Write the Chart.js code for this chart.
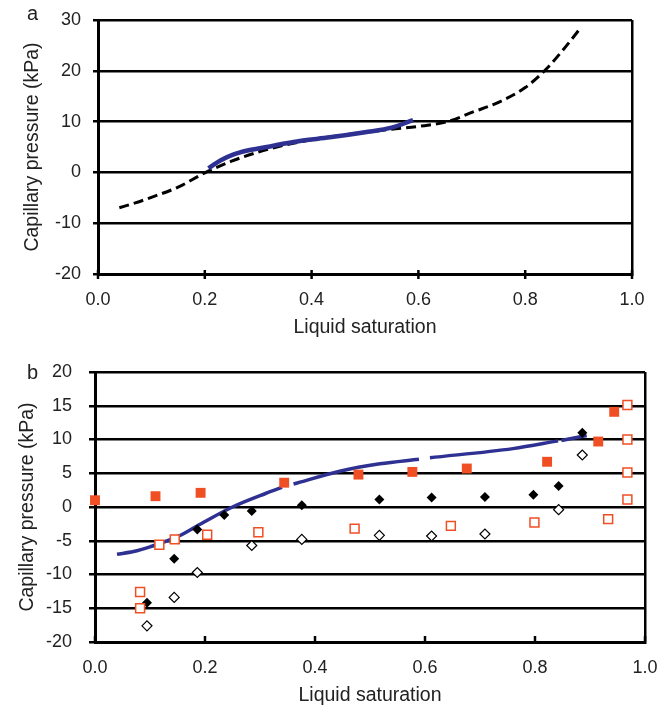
<!DOCTYPE html>
<html>
<head>
<meta charset="utf-8">
<script src="https://cdn.jsdelivr.net/npm/chart.js@4.4.1/dist/chart.umd.min.js"></script>
<style>
  body { margin: 0; background: #fff; }
  #wrap { position: relative; width: 657px; height: 712px; font-family: "Liberation Sans", Arial, sans-serif; }
  canvas { position: absolute; left: 0; }
  #chartA { top: 0; }
  #chartB { top: 345px; }
  .tag { position: absolute; font-size: 20px; line-height: 20px; color: #222; }
</style>
</head>
<body>
<div id="wrap">
  <canvas id="chartA" width="657" height="345"></canvas>
  <canvas id="chartB" width="657" height="367"></canvas>
  <div class="tag" style="left:27px;top:3px">a</div>
  <div class="tag" style="left:27px;top:362px">b</div>
</div>
<script>
// ---- data ----
const satTicks = [0, 0.2, 0.4, 0.6, 0.8, 1.0];
const pcTicksA = [-20, -10, 0, 10, 20, 30];
const pcTicksB = [-20, -15, -10, -5, 0, 5, 10, 15, 20];

// panel a: dashed black curve
const satDashA = [0.04, 0.07, 0.1, 0.15, 0.2, 0.25, 0.3, 0.35, 0.4, 0.45, 0.5, 0.55, 0.6, 0.655, 0.7, 0.75, 0.8, 0.84, 0.87, 0.905];
const pcDashA  = [-6.95, -6.0, -4.9, -2.9, -0.1, 2.2, 4.0, 5.4, 6.4, 7.2, 7.9, 8.5, 9.05, 10.0, 11.8, 13.8, 16.7, 20.4, 24.0, 28.6];
// panel a: solid blue curve
const satBlueA = [0.207, 0.215, 0.23, 0.253, 0.28, 0.316, 0.35, 0.378, 0.434, 0.5, 0.55, 0.59];
const pcBlueA  = [0.8, 1.4, 2.4, 3.5, 4.3, 5.0, 5.7, 6.2, 6.9, 7.9, 8.8, 10.3];

// panel b: blue curve (null = break in the line)
const satBlueB = [0.04, 0.07, 0.1, 0.15, 0.19, 0.25, 0.31, 0.34, null, 0.361, 0.445, 0.518, 0.589, null, 0.609, 0.76, 0.842, null, 0.848, 0.894];
const pcBlueB  = [-7.0, -6.6, -5.9, -4.4, -2.6, 0.0, 2.0, 2.9, null, 3.4, 5.3, 6.4, 7.07, null, 7.3, 8.65, 9.8, null, 9.85, 10.6];
// panel b: markers
const satFilledSq = [0.0, 0.11, 0.192, 0.344, 0.479, 0.577, 0.676, 0.822, 0.915, 0.944];
const pcFilledSq  = [1.0, 1.6, 2.1, 3.6, 4.8, 5.2, 5.7, 6.7, 9.7, 14.1];
const satOpenSq = [0.082, 0.082, 0.117, 0.145, 0.204, 0.297, 0.472, 0.647, 0.799, 0.933, 0.968, 0.968, 0.968, 0.968];
const pcOpenSq  = [-12.6, -15.0, -5.6, -4.8, -4.1, -3.75, -3.2, -2.8, -2.3, -1.8, 1.1, 5.1, 10.0, 15.1];
const satFilledDia = [0.0945, 0.144, 0.186, 0.235, 0.285, 0.376, 0.517, 0.612, 0.709, 0.797, 0.843, 0.886];
const pcFilledDia  = [-14.2, -7.65, -3.35, -1.2, -0.6, 0.25, 1.1, 1.4, 1.5, 1.8, 3.1, 11.0];
const satOpenDia = [0.0945, 0.144, 0.186, 0.285, 0.376, 0.517, 0.612, 0.709, 0.843, 0.886];
const pcOpenDia  = [-17.6, -13.4, -9.7, -5.7, -4.8, -4.2, -4.3, -4.0, -0.4, 7.7];

const BLUE = '#2e3192';
const ORANGE = '#f04e23';
const TEXT = '#222';
const FONT = '"Liberation Sans", Arial, sans-serif';

function pts(xs, ys) {
    return xs.map((x, i) => ({ x: x, y: ys[i] }));
}

// small tick marks across the x axis
const xTickMarks = {
    id: 'xTickMarks',
    afterDraw(chart, args, opts) {
        const sx = chart.scales.x;
        const yb = chart.chartArea.bottom;
        const ctx = chart.ctx;
        ctx.save();
        ctx.strokeStyle = '#000';
        ctx.lineWidth = 2.5;
        sx.ticks.forEach(t => {
            const px = sx.getPixelForValue(t.value);
            ctx.beginPath();
            ctx.moveTo(px, yb - opts.up);
            ctx.lineTo(px, yb + opts.down);
            ctx.stroke();
        });
        ctx.restore();
    }
};

function makeOptions(o) {
    return {
        responsive: false,
        animation: false,
        layout: { padding: { left: 0, right: o.padRight, top: o.padTop, bottom: 0 } },
        plugins: {
            legend: { display: false },
            tooltip: { enabled: false },
            xTickMarks: { up: o.tickUp, down: o.tickDown }
        },
        scales: {
            x: {
                type: 'linear',
                min: 0, max: 1,
                afterBuildTicks: s => { s.ticks = satTicks.map(v => ({ value: v })); },
                afterFit: s => { s.height = o.xHeight; s.paddingLeft = 0; s.paddingRight = 0; },
                border: { display: true, color: '#000', width: 3 },
                grid: {
                    drawOnChartArea: true,
                    drawTicks: false,
                    lineWidth: 2.5,
                    color: c => (c.tick && c.tick.value === 1) ? '#000' : 'rgba(0,0,0,0)'
                },
                ticks: {
                    padding: o.xTickPad,
                    color: TEXT,
                    font: { family: FONT, size: 18 },
                    maxRotation: 0,
                    callback: v => v.toFixed(1)
                },
                title: {
                    display: true,
                    text: 'Liquid saturation',
                    color: TEXT,
                    font: { family: FONT, size: 19.5 },
                    padding: { top: 0, bottom: o.xTitlePad }
                }
            },
            y: {
                type: 'linear',
                min: o.yTicks[0], max: o.yTicks[o.yTicks.length - 1],
                afterBuildTicks: s => { s.ticks = o.yTicks.map(v => ({ value: v })); },
                afterFit: s => { s.width = o.yWidth; s.paddingTop = 0; s.paddingBottom = 0; },
                border: { display: true, color: '#000', width: 3 },
                grid: {
                    color: '#000',
                    lineWidth: 2.5,
                    drawTicks: true,
                    tickLength: o.yTickLen,
                    tickColor: '#000'
                },
                ticks: {
                    padding: o.yTickPad,
                    color: TEXT,
                    font: { family: FONT, size: 18 }
                },
                title: {
                    display: true,
                    text: 'Capillary pressure (kPa)',
                    color: TEXT,
                    font: { family: FONT, size: 19.5 },
                    padding: { top: o.yTitlePad, bottom: 0 }
                }
            }
        }
    };
}

// ---- panel a ----
new Chart(document.getElementById('chartA'), {
    type: 'scatter',
    data: {
        datasets: [{
            data: pts(satBlueA, pcBlueA),
            showLine: true,
            borderColor: BLUE,
            borderWidth: 4.5,
            pointRadius: 0,
            cubicInterpolationMode: 'monotone'
        }, {
            data: pts(satDashA, pcDashA),
            showLine: true,
            borderColor: '#000',
            borderWidth: 3,
            borderDash: [10, 5],
            pointRadius: 0,
            cubicInterpolationMode: 'monotone'
        }]
    },
    options: makeOptions({
        padRight: 25, padTop: 20, xHeight: 71, yWidth: 98,
        xTickPad: 15, xTitlePad: 6, yTickLen: 5, yTickPad: 12, yTitlePad: 21,
        yTicks: pcTicksA, tickUp: 4, tickDown: 5
    }),
    plugins: [xTickMarks]
});

// ---- panel b ----
new Chart(document.getElementById('chartB'), {
    type: 'scatter',
    data: {
        datasets: [{
            data: pts(satFilledSq, pcFilledSq),
            pointStyle: 'rect',
            pointRadius: 7,
            pointBackgroundColor: ORANGE,
            pointBorderWidth: 0,
            clip: false
        }, {
            data: pts(satOpenSq, pcOpenSq),
            pointStyle: 'rect',
            pointRadius: 6.3,
            pointBackgroundColor: '#fff',
            pointBorderColor: ORANGE,
            pointBorderWidth: 1.5,
            clip: false
        }, {
            data: pts(satFilledDia, pcFilledDia),
            pointStyle: 'rectRot',
            pointRadius: 5,
            pointBackgroundColor: '#000',
            pointBorderWidth: 0
        }, {
            data: pts(satOpenDia, pcOpenDia),
            pointStyle: 'rectRot',
            pointRadius: 5,
            pointBackgroundColor: '#fff',
            pointBorderColor: '#000',
            pointBorderWidth: 1.2
        }, {
            data: pts(satBlueB, pcBlueB),
            showLine: true,
            spanGaps: false,
            borderColor: BLUE,
            borderWidth: 3.5,
            pointRadius: 0,
            cubicInterpolationMode: 'monotone'
        }]
    },
    options: makeOptions({
        padRight: 12, padTop: 27, xHeight: 70, yWidth: 95,
        xTickPad: 15, xTitlePad: 5, yTickLen: 6, yTickPad: 17, yTitlePad: 16,
        yTicks: pcTicksB, tickUp: 6, tickDown: 0
    }),
    plugins: [xTickMarks]
});
</script>
</body>
</html>
